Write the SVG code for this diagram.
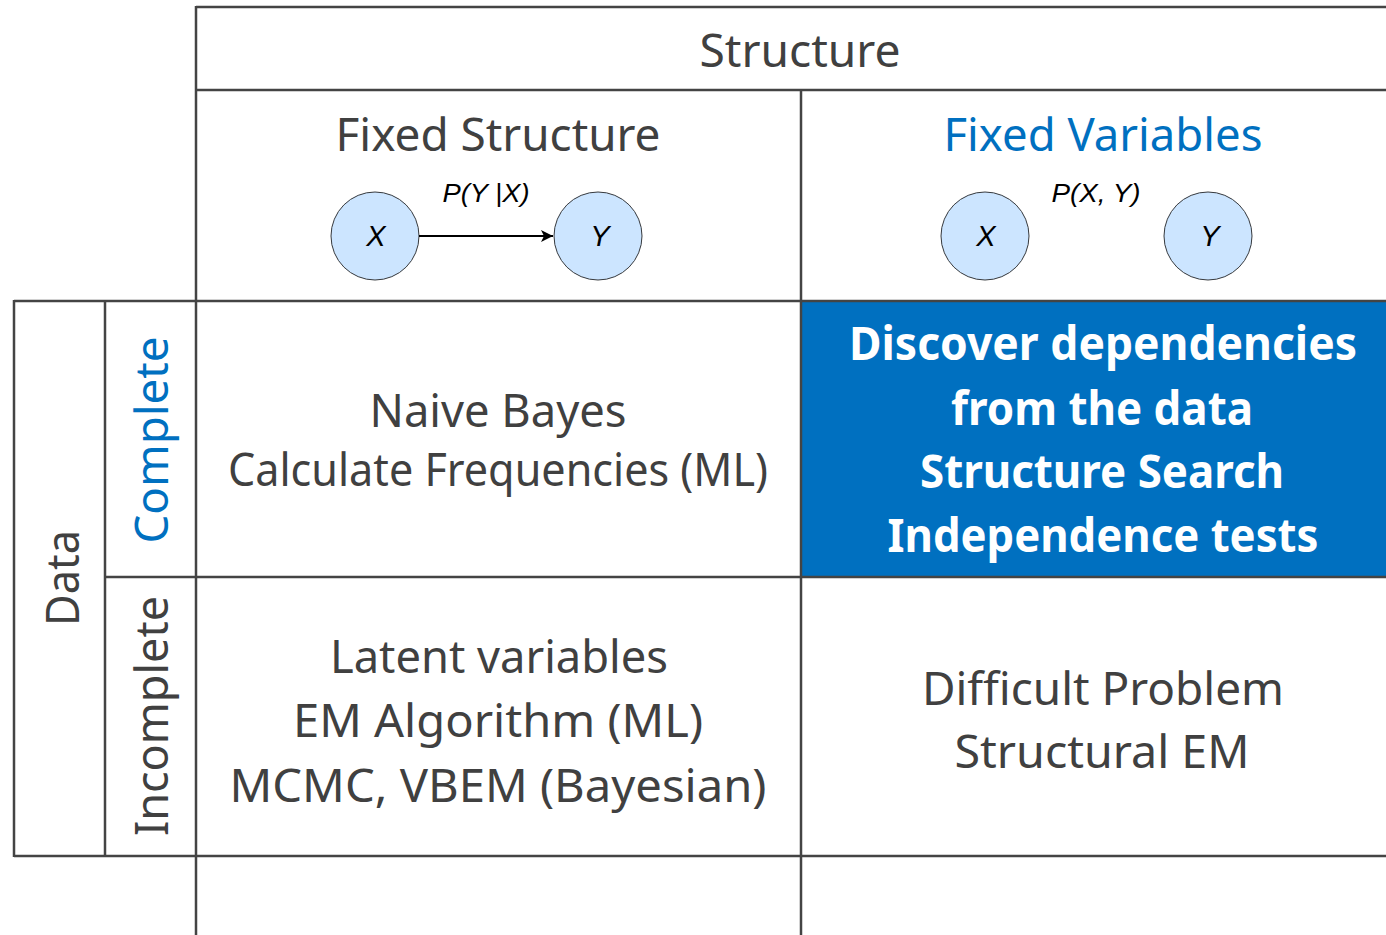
<svg xmlns="http://www.w3.org/2000/svg" width="1386" height="935" viewBox="0 0 1386 935">
<style>
  .grid line { stroke: #444444; stroke-width: 2.5; }
  .t { font-family: "Noto Sans", "Open Sans", sans-serif; font-size: 46px; fill: #404040; text-anchor: middle; }
  .blue { fill: #0070C0; }
  .w { font-family: "Noto Sans", "Open Sans", sans-serif; font-size: 46px; font-weight: bold; fill: #ffffff; text-anchor: middle; }
  .node { fill: #cce5ff; stroke: #36393d; stroke-width: 1; }
  .it { font-family: "Liberation Sans", Arial, sans-serif; font-style: italic; font-size: 26px; fill: #000000; text-anchor: middle; }
  .nl { font-family: "Liberation Sans", Arial, sans-serif; font-style: italic; font-size: 29px; fill: #000000; text-anchor: middle; }
</style>
<defs>
  <marker id="arrow" viewBox="0 0 10 10" refX="10" refY="5" markerWidth="12" markerHeight="12" markerUnits="userSpaceOnUse" orient="auto">
    <path d="M0,0 L10,5 L0,10 L2.5,5 Z" fill="#000000"/>
  </marker>
</defs>
<rect width="1386" height="935" fill="#ffffff"/>
<rect id="highlight" x="801" y="301" width="585" height="276" fill="#0070C0"/>
<g class="grid" id="grid">
  <line x1="196" y1="7" x2="1386" y2="7"/>
  <line x1="196" y1="90" x2="1386" y2="90"/>
  <line x1="196" y1="6" x2="196" y2="935"/>
  <line x1="801" y1="90" x2="801" y2="935"/>
  <line x1="14" y1="301" x2="1386" y2="301"/>
  <line x1="14" y1="300" x2="14" y2="857"/>
  <line x1="105" y1="301" x2="105" y2="857"/>
  <line x1="105" y1="577" x2="1386" y2="577"/>
  <line x1="14" y1="856" x2="1386" y2="856"/>
</g>
<g id="header-structure"><text class="t" x="800" y="67" textLength="201" lengthAdjust="spacingAndGlyphs">Structure</text></g>
<g id="header-fixed-structure"><text class="t" x="498" y="151" textLength="325" lengthAdjust="spacingAndGlyphs">Fixed Structure</text></g>
<g id="header-fixed-variables"><text class="t blue" x="1103" y="151" textLength="319" lengthAdjust="spacingAndGlyphs">Fixed Variables</text></g>
<g id="row-data"><text class="t" transform="translate(79,578) rotate(-90)" x="0" y="0" textLength="96" lengthAdjust="spacingAndGlyphs">Data</text></g>
<g id="row-complete"><text class="t blue" transform="translate(168,440) rotate(-90)" x="0" y="0" textLength="207" lengthAdjust="spacingAndGlyphs">Complete</text></g>
<g id="row-incomplete"><text class="t" transform="translate(168,716) rotate(-90)" x="0" y="0" textLength="240" lengthAdjust="spacingAndGlyphs">Incomplete</text></g>
<g id="cell-complete-fixed-structure">
  <text class="t" x="498" y="427" textLength="257" lengthAdjust="spacingAndGlyphs">Naive Bayes</text>
  <text class="t" x="498" y="486" textLength="540" lengthAdjust="spacingAndGlyphs">Calculate Frequencies (ML)</text>
</g>
<g id="cell-complete-fixed-variables">
  <text class="w" x="1103" y="360" textLength="508" lengthAdjust="spacingAndGlyphs">Discover dependencies</text>
  <text class="w" x="1102" y="425" textLength="302" lengthAdjust="spacingAndGlyphs">from the data</text>
  <text class="w" x="1102" y="488" textLength="364" lengthAdjust="spacingAndGlyphs">Structure Search</text>
  <text class="w" x="1103" y="552" textLength="431" lengthAdjust="spacingAndGlyphs">Independence tests</text>
</g>
<g id="cell-incomplete-fixed-structure">
  <text class="t" x="499" y="673" textLength="338" lengthAdjust="spacingAndGlyphs">Latent variables</text>
  <text class="t" x="498" y="737" textLength="410" lengthAdjust="spacingAndGlyphs">EM Algorithm (ML)</text>
  <text class="t" x="498" y="802" textLength="537" lengthAdjust="spacingAndGlyphs">MCMC, VBEM (Bayesian)</text>
</g>
<g id="cell-incomplete-fixed-variables">
  <text class="t" x="1103" y="705" textLength="362" lengthAdjust="spacingAndGlyphs">Difficult Problem</text>
  <text class="t" x="1102" y="768" textLength="295" lengthAdjust="spacingAndGlyphs">Structural EM</text>
</g>
<g id="node-x1"><circle class="node" cx="375" cy="236" r="44"/><text class="nl" x="376" y="246">X</text></g>
<g id="node-y1"><circle class="node" cx="598" cy="236" r="44"/><text class="nl" x="600" y="246">Y</text></g>
<g id="node-x2"><circle class="node" cx="985" cy="236" r="44"/><text class="nl" x="986" y="246">X</text></g>
<g id="node-y2"><circle class="node" cx="1208" cy="236" r="44"/><text class="nl" x="1210" y="246">Y</text></g>
<g id="connectors">
  <line x1="419" y1="236" x2="553" y2="236" stroke="#000000" stroke-width="2" marker-end="url(#arrow)"/>
  <text class="it" x="486" y="202" textLength="87" lengthAdjust="spacingAndGlyphs">P(Y |X)</text>
</g>
<g id="label-joint"><text class="it" x="1096" y="202" textLength="89" lengthAdjust="spacingAndGlyphs">P(X, Y)</text></g>
</svg>
